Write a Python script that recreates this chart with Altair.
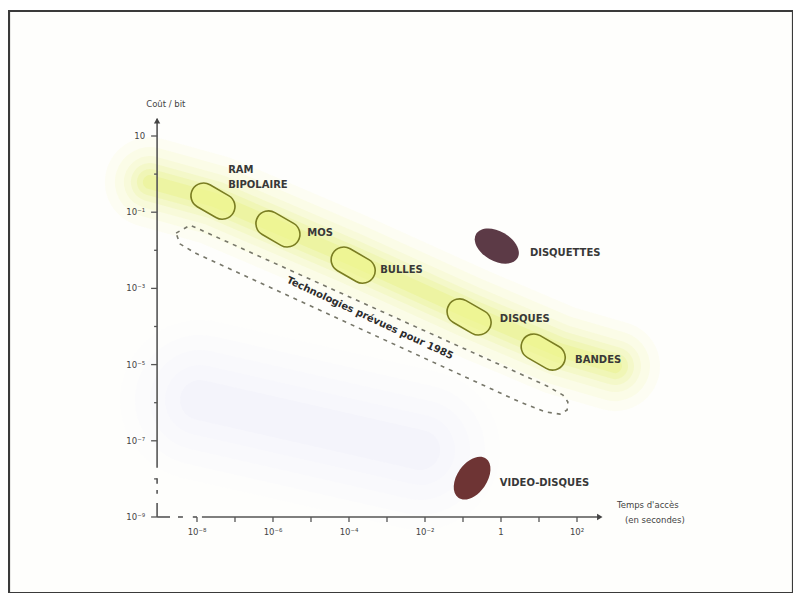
import altair as alt
import pandas as pd

# ---------------- data (log10 values) ----------------
# x = log10(access time, s), y = log10(cost per bit)
tech_names = ["RAM BIPOLAIRE", "MOS", "BULLES", "DISQUES", "BANDES"]
tech_lx = [-7.58, -5.87, -3.89, -0.84, 1.11]
tech_ly = [-0.71, -1.44, -2.39, -3.75, -4.67]

dark_names = ["DISQUETTES", "VIDEO-DISQUES"]
dark_lx = [-0.11, -0.76]
dark_ly = [-1.89, -7.98]
dark_angle = [30, 305]
dark_color = ["#5c3a46", "#6e3434"]

label_text = ["RAM", "BIPOLAIRE", "MOS", "BULLES", "DISQUETTES", "DISQUES", "BANDES", "VIDEO-DISQUES"]
label_lx = [-7.18, -7.18, -5.10, -3.18, 0.76, -0.03, 1.95, -0.03]
label_ly = [0.11, -0.29, -1.55, -2.52, -2.07, -3.80, -4.88, -8.11]

# dashed envelope (future technologies)
env_lx = [-8.55, -8.18, 1.21, 1.63, 1.76, 1.74, 1.55, 1.16, 0.45, -8.05, -8.45, -8.55]
env_ly = [-1.55, -1.34, -5.56, -5.80, -5.98, -6.19, -6.30, -6.24, -5.96, -2.07, -1.83, -1.55]

# glowing band of present technologies
band_lx = [-9.24, -7.53, -3.97, -0.82, 1.55, 3.00]
band_ly = [-0.21, -0.68, -2.20, -3.62, -4.62, -5.04]

# faint lavender haze lower left
haze_lx = [-7.92, -2.13]
haze_ly = [-5.93, -7.24]

diag_text = "Technologies prévues pour 1985"
diag_lx = [-3.45]
diag_ly = [-3.78]

xtick_exp = [-8, -6, -4, -2, 0, 2]
xtick_lab = ["10⁻⁸", "10⁻⁶", "10⁻⁴", "10⁻²", "1", "10²"]
xminor_exp = [-7, -5, -3, -1, 1]
ytick_exp = [1, -1, -3, -5, -7, -9]
ytick_lab = ["10", "10⁻¹", "10⁻³", "10⁻⁵", "10⁻⁷", "10⁻⁹"]
yminor_exp = [0, -2, -4, -6, -8]

axis_x = -9.05      # position of the y axis (log10 s)
axis_y = -9.0       # position of the x axis (log10 cost)

# axis segments (broken near the origin)
yseg_lo = [-9.0, -8.13, -8.39, -7.71]
yseg_hi = [-8.63, -7.98, -8.29, 1.45]
xseg_lo = [-9.05, -8.50, -8.11, -7.87]
xseg_hi = [-8.71, -8.37, -8.00, 2.62]

xtitle_lines = ["Temps d'accès", "(en secondes)"]
xtitle_lx = [3.05, 3.26]
xtitle_ly = [-8.69, -9.08]
ytitle = "Coût / bit"

# ---------------- scales ----------------
xs = alt.Scale(domain=[-12.947, 7.684], nice=False, zero=False)
ys = alt.Scale(domain=[-10.995, 4.281], nice=False, zero=False)


def X(f):
    return alt.X(f, type="quantitative", scale=xs, axis=None)


def Y(f):
    return alt.Y(f, type="quantitative", scale=ys, axis=None)


k = 0.5523


def stadium(b):
    a = 1 - b
    return (f"M {-a} {-b} L {a} {-b} C {a + k*b} {-b} 1 {-k*b} 1 0 "
            f"C 1 {k*b} {a + k*b} {b} {a} {b} L {-a} {b} "
            f"C {-a - k*b} {b} -1 {k*b} -1 0 C -1 {-k*b} {-a - k*b} {-b} {-a} {-b} Z")


def ellipse(b):
    return (f"M -1 0 C -1 {-k*b} {-k} {-b} 0 {-b} C {k} {-b} 1 {-k*b} 1 0 "
            f"C 1 {k*b} {k} {b} 0 {b} C {-k} {b} -1 {k*b} -1 0 Z")


# ---------------- layers ----------------
band_df = pd.DataFrame({"lx": band_lx, "ly": band_ly, "i": range(len(band_lx))})
haze_df = pd.DataFrame({"lx": haze_lx, "ly": haze_ly, "i": range(len(haze_lx))})

layers = []
for w, op in [(160, 0.06), (130, 0.07), (100, 0.08), (70, 0.09), (40, 0.1)]:
    layers.append(alt.Chart(haze_df).mark_line(color="#e6e6fa", opacity=op, strokeWidth=w,
                                               strokeCap="round").encode(x=X("lx"), y=Y("ly"), order="i:O"))
for w, op in [(90, 0.05), (70, 0.07), (52, 0.09), (38, 0.12), (26, 0.16), (14, 0.2)]:
    layers.append(alt.Chart(band_df).mark_line(color="#e2ee55", opacity=op, strokeWidth=w,
                                               strokeCap="round", strokeJoin="round")
                  .encode(x=X("lx"), y=Y("ly"), order="i:O"))

env_df = pd.DataFrame({"lx": env_lx, "ly": env_ly, "i": range(len(env_lx))})
layers.append(alt.Chart(env_df).mark_line(color="#77776a", strokeWidth=1.6, strokeDash=[4, 5])
              .encode(x=X("lx"), y=Y("ly"), order="i:O"))

# axes
yseg_df = pd.DataFrame({"x": [axis_x] * len(yseg_lo), "y1": yseg_lo, "y2": yseg_hi})
layers.append(alt.Chart(yseg_df).mark_rule(color="#555", strokeWidth=1.6)
              .encode(x=X("x"), y=Y("y1"), y2="y2:Q"))
xseg_df = pd.DataFrame({"y": [axis_y] * len(xseg_lo), "x1": xseg_lo, "x2": xseg_hi})
layers.append(alt.Chart(xseg_df).mark_rule(color="#555", strokeWidth=1.6)
              .encode(y=Y("y"), x=X("x1"), x2="x2:Q"))
arrow_df = pd.DataFrame({"lx": [2.60, axis_x], "ly": [axis_y, 1.40], "s": ["triangle-right", "triangle-up"]})
layers.append(alt.Chart(arrow_df).mark_point(filled=True, color="#444", size=40, opacity=1)
              .encode(x=X("lx"), y=Y("ly"), shape=alt.Shape("s:N", scale=None)))

# ticks
ymaj_df = pd.DataFrame({"lx": [axis_x] * len(ytick_exp), "ly": ytick_exp, "t": ytick_lab})
ymin_df = pd.DataFrame({"lx": [axis_x] * len(yminor_exp), "ly": yminor_exp})
xmaj_df = pd.DataFrame({"lx": xtick_exp, "ly": [axis_y] * len(xtick_exp), "t": xtick_lab})
xmin_df = pd.DataFrame({"lx": xminor_exp, "ly": [axis_y] * len(xminor_exp)})
layers.append(alt.Chart(ymaj_df).mark_point(shape="M -1 0 L 0 0", filled=False, color="#555",
                                            strokeWidth=1.3, size=144, opacity=1)
              .encode(x=X("lx"), y=Y("ly")))
layers.append(alt.Chart(ymin_df).mark_point(shape="M -1 0 L 0 0", filled=False, color="#555",
                                            strokeWidth=1.3, size=36, opacity=1)
              .encode(x=X("lx"), y=Y("ly")))
layers.append(alt.Chart(pd.concat([xmaj_df[["lx", "ly"]], xmin_df])).mark_point(
    shape="M 0 0 L 0 1", filled=False, color="#555", strokeWidth=1.3, size=100, opacity=1)
    .encode(x=X("lx"), y=Y("ly")))

tick_font = dict(font="DejaVu Sans", fontSize=8.5, color="#444")
layers.append(alt.Chart(ymaj_df).mark_text(align="right", baseline="middle", dx=-12, **tick_font)
              .encode(x=X("lx"), y=Y("ly"), text="t:N"))
layers.append(alt.Chart(xmaj_df).mark_text(align="center", baseline="middle", dy=15, **tick_font)
              .encode(x=X("lx"), y=Y("ly"), text="t:N"))

# axis titles
ytitle_df = pd.DataFrame({"lx": [-8.82], "ly": [1.84], "t": [ytitle]})
layers.append(alt.Chart(ytitle_df).mark_text(align="center", baseline="middle", **tick_font)
              .encode(x=X("lx"), y=Y("ly"), text="t:N"))
xtitle_df = pd.DataFrame({"lx": xtitle_lx, "ly": xtitle_ly, "t": xtitle_lines})
layers.append(alt.Chart(xtitle_df).mark_text(align="left", baseline="middle", **tick_font)
              .encode(x=X("lx"), y=Y("ly"), text="t:N"))

# technologies (outlined capsules)
tech_df = pd.DataFrame({"lx": tech_lx, "ly": tech_ly, "name": tech_names})
layers.append(alt.Chart(tech_df).mark_point(shape=stadium(0.54), size=2200, angle=30, filled=True,
                                            fill="#eef58a", fillOpacity=0.6, stroke="#7a7d22",
                                            strokeWidth=1.6, opacity=1)
              .encode(x=X("lx"), y=Y("ly")))

dark_df = pd.DataFrame({"lx": dark_lx, "ly": dark_ly, "name": dark_names,
                        "a": dark_angle, "c": dark_color})
for i in range(len(dark_names)):
    layers.append(alt.Chart(dark_df.iloc[[i]]).mark_point(shape=ellipse(0.62), size=2300,
                                                          angle=dark_angle[i], filled=True,
                                                          color=dark_color[i], opacity=1)
                  .encode(x=X("lx"), y=Y("ly")))

# labels
lab_df = pd.DataFrame({"lx": label_lx, "ly": label_ly, "t": label_text})
layers.append(alt.Chart(lab_df).mark_text(align="left", baseline="middle", font="DejaVu Sans",
                                          fontSize=10, fontWeight="bold", color="#383838")
              .encode(x=X("lx"), y=Y("ly"), text="t:N"))

diag_df = pd.DataFrame({"lx": diag_lx, "ly": diag_ly, "t": [diag_text]})
layers.append(alt.Chart(diag_df).mark_text(align="center", baseline="middle", angle=25,
                                           font="DejaVu Sans", fontSize=10, fontWeight="bold",
                                           color="#2c2c2c")
              .encode(x=X("lx"), y=Y("ly"), text="t:N"))

chart = alt.layer(*layers).properties(
    width=784, height=582,
    autosize=alt.AutoSizeParams(type="none"),
    padding={"left": 1, "top": 3, "right": 0, "bottom": 0},
    background="white",
).configure_view(stroke="#3a3a3a", strokeWidth=2.2, fill="#fefefc")

chart.save("out.html", embed_options={"renderer": "svg", "actions": False})
